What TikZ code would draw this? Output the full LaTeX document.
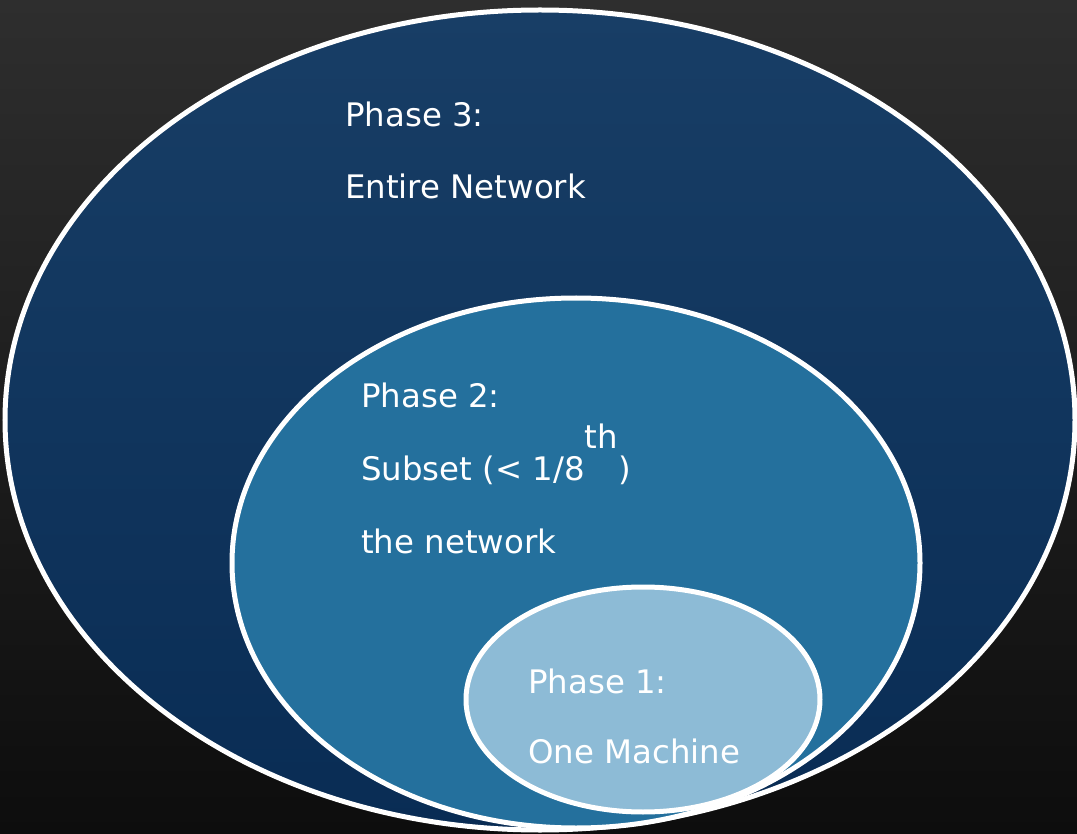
\documentclass[tikz,border=0pt]{standalone}
\usepackage{fontspec}
\setmainfont{DejaVu Sans}
\usetikzlibrary{shapes.geometric}
\definecolor{bgtop}{RGB}{46,46,46}
\definecolor{bgbot}{RGB}{13,13,13}
\definecolor{outertop}{RGB}{24,62,102}
\definecolor{outerbot}{RGB}{9,44,84}
\definecolor{midfill}{RGB}{36,112,157}
\definecolor{innerfill}{RGB}{141,187,214}
\tikzset{
  phase/.style={shape=ellipse, draw=white, line width=5pt, inner sep=0pt},
  lbl/.style={anchor=base west, text=white, inner sep=0pt, font=\fontsize{32.4}{40}\selectfont}
}
\begin{document}
\begin{tikzpicture}[x=1pt,y=-1pt]
  % page and backdrop
  \useasboundingbox (0,0) rectangle (1077,834);
  \shade[top color=bgtop, bottom color=bgbot] (0,0) rectangle (1077,834);

  % nested phase regions
  \node[phase, top color=outertop, bottom color=outerbot,
        minimum width=1070pt, minimum height=820pt] (outer) at (540,420) {};
  \node[phase, fill=midfill,
        minimum width=688pt, minimum height=530pt] (middle) at (576,563) {};
  \node[phase, fill=innerfill,
        minimum width=354pt, minimum height=225pt] (inner) at (643,699.5) {};

  % labels
  \node[lbl] (p3a) at (345,127) {Phase 3:};
  \node[lbl] (p3b) at (345,199) {Entire Network};

  \node[lbl] (p2a) at (361,408) {Phase 2:};
  \node[lbl] (p2b) at (361,480) {Subset (< 1/8\raisebox{32pt}{th})};
  \node[lbl] (p2c) at (361,553) {the network};

  \node[lbl] (p1a) at (528,693) {Phase 1:};
  \node[lbl] (p1b) at (528,763) {One Machine};
\end{tikzpicture}
\end{document}
